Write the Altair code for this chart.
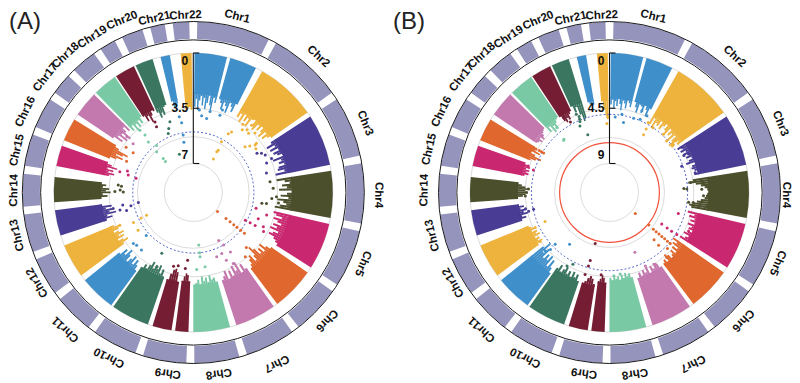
import math
import altair as alt
import pandas as pd

W, H = 784, 374
R0, RIN = 139.5, 29.0

chrom_colors = ["#3f8fca", "#edb33c", "#483c94", "#4b4f2c", "#c9276f", "#e0672d", "#c378ae", "#7ac9a5",
                "#751e33", "#3a7660", "#3f8fca", "#edb33c", "#483c94", "#4b4f2c", "#c9276f", "#e0672d",
                "#c378ae", "#7ac9a5", "#751e33", "#3a7660", "#3f8fca", "#edb33c"]
chrom_names = [f"Chr{i}" for i in range(1, 23)]

ring_edges = [0, 27.6, 55.6, 78.8, 101.8, 124, 143.3, 163, 181, 198.5, 216.5, 232.7, 248.3,
              263.9, 277.7, 291.2, 304.4, 314.4, 325.8, 334, 344, 351.7, 360]
ring_color = "#9494bd"
ring_gap = 1.35

label_angle = [14, 42.6, 68, 90.8, 112.7, 133.8, 154, 172, 188, 207, 223, 240, 256.4, 270.7, 283.5,
               295.7, 307.9, 317, 327, 337.5, 347.4, 357.5]
label_radius_a = [181, 184.5, 185, 185, 183.6, 184.6, 190, 182.5, 182, 185, 187, 180, 181, 179, 181,
                  186, 187, 187, 185, 186, 178, 177]
label_radius_b = [181, 184.5, 184, 176.5, 182, 184.6, 190, 182.5, 182, 185, 187, 180, 182, 185, 185,
                  186, 187, 187, 185, 186, 178, 177]

bar_chr = [1, 1, 2, 3, 4, 5, 6, 7, 8, 9, 9, 10, 11, 12, 13, 14, 15, 16, 17, 18, 19, 20, 21, 22]
bar_start = [0.5, 15.4, 29.6, 57, 81, 103, 125, 144.8, 164.7, 182, 189, 199, 216, 233.5, 252, 266, 281, 292,
             304, 315.7, 326.4, 335.6, 346.4, 354.8]
bar_end = [14, 26.7, 55, 78.5, 100.5, 122.5, 143, 162, 180, 187.5, 197, 215, 231, 247.7, 262.7, 276.4, 289.6,
           301.5, 314.7, 325.8, 334.8, 343, 350.3, 359.3]

profile_a = [
    [3.4, 2.9, 3.6, 3.0, 2.7, 3.3, 2.8, 3.5, 3.1, 2.6, 3.2, 3.5, 2.7, 3.0],
    [2.7, 2.9, 3.3, 2.8, 3.0, 3.4, 2.7, 2.9, 3.2, 2.6],
    [3.3, 3.0, 3.5, 2.9, 3.3, 3.0, 3.5, 2.9, 2.8, 3.2, 3.4, 2.9, 3.2, 2.8, 3.1, 3.4, 2.9, 3.3, 3.0, 2.8],
    [3.0, 3.4, 2.9, 3.3, 2.8, 3.2, 3.0, 2.7, 3.4, 2.9, 3.1, 2.8, 3.2, 3.3, 2.9, 3.5],
    [3.5, 3.0, 2.7, 3.2, 2.9, 3.4, 2.6, 2.9, 3.3, 2.8, 3.5, 3.1, 2.9, 3.3, 3.6],
    [3.6, 3.4, 3.0, 3.5, 3.2, 2.9, 3.4, 3.1, 3.5, 2.9, 3.2, 3.4, 3.0, 2.8, 2.6],
    [2.8, 3.1, 3.5, 3.0, 3.4, 3.1, 3.6, 3.9, 3.3, 3.0, 3.5, 3.3, 3.0, 2.8],
    [3.0, 3.4, 2.9, 3.7, 3.2, 3.6, 3.0, 3.4, 2.9, 3.5, 3.2, 3.0],
    [3.0, 3.3, 3.2, 3.5, 3.1, 3.4, 3.2, 3.5, 3.0, 3.3, 3.1, 3.0],
    [3.2, 3.6, 3.7, 3.5, 3.2],
    [3.1, 3.7, 3.9, 3.8, 3.5, 3.1],
    [3.2, 3.6, 3.3, 3.8, 3.5, 3.7, 3.4, 3.8, 3.5, 3.2, 3.4, 3.1],
    [2.7, 3.0, 3.3, 2.9, 3.4, 3.1, 2.8, 3.2, 3.5, 3.0, 3.3, 2.8],
    [3.4, 3.8, 3.5, 3.2, 3.7, 3.4, 3.8, 3.5, 3.2, 3.6, 3.8, 3.4],
    [3.1, 3.5, 3.2, 3.8, 3.4, 3.6, 3.2, 3.6, 3.0],
    [3.0, 3.4, 3.1, 3.6, 3.3, 3.5, 3.1, 3.3, 3.0],
    [3.4, 3.7, 3.3, 3.6, 3.2, 3.8, 3.4, 3.1],
    [3.1, 3.5, 3.9, 3.4, 3.8, 4.1, 3.4, 3.1],
    [2.7, 3.3, 2.9, 3.5, 3.0, 3.6, 3.1, 2.8, 3.2],
    [3.4, 3.1, 3.6, 3.2, 3.5, 3.1, 3.4, 3.0],
    [3.1, 3.5, 3.2, 3.7, 3.3, 3.0, 3.1],
    [3.3, 3.7, 3.4, 3.6, 3.1, 3.0],
    [2.9, 3.3, 3.5, 3.1],
    [3.6, 3.5, 3.4, 3.6],
]
profile_b = [
    [4.2, 3.8, 4.5, 3.9, 4.3, 3.7, 4.1, 4.6, 3.8, 4.0, 4.4, 3.7, 3.9, 4.2],
    [3.7, 4.1, 4.5, 3.8, 3.9, 4.4, 3.7, 4.0, 4.5, 3.8],
    [4.9, 4.3, 5.1, 4.5, 4.7, 4.2, 4.8, 4.4, 4.1, 4.6, 4.9, 4.2, 4.7, 4.4, 5.0, 4.3, 4.8, 5.2, 4.4, 4.6],
    [4.8, 4.4, 4.7, 4.3, 4.6, 4.2, 4.5, 4.1, 4.4, 4.7, 4.0, 4.3, 4.4, 4.2, 4.0, 4.3],
    [4.5, 4.9, 4.3, 3.9, 3.6, 3.4, 3.3, 3.4, 3.5, 3.6, 3.9, 4.2, 4.5, 4.8, 4.6],
    [4.8, 4.2, 4.6, 4.1, 4.4, 4.0, 4.5, 4.1, 4.3, 3.9, 4.2, 4.5, 4.0, 4.2, 4.6],
    [5.0, 4.5, 4.8, 4.2, 4.6, 4.1, 4.5, 4.2, 4.0, 4.4, 4.6, 4.0, 4.3, 4.1],
    [4.0, 4.4, 4.6, 4.2, 4.5, 4.0, 4.6, 4.2, 4.5, 4.1, 4.4, 4.0],
    [4.2, 4.6, 4.4, 4.7, 4.3, 4.6, 4.2, 4.5, 4.3, 4.6, 4.2, 4.4],
    [4.0, 4.4, 4.6, 4.3, 4.1],
    [3.8, 4.2, 4.4, 4.2, 3.9, 3.7],
    [3.7, 4.2, 3.9, 4.3, 3.8, 4.2, 3.9, 4.4, 4.1, 3.8, 4.3, 3.9],
    [3.2, 3.6, 4.2, 3.5, 4.4, 3.9, 4.3, 3.8, 4.6, 4.1, 5.0, 4.4],
    [4.2, 4.7, 4.4, 4.6, 4.3, 4.8, 4.5, 4.7, 4.3, 4.6, 4.4, 4.2],
    [3.9, 4.3, 4.0, 4.5, 4.2, 4.4, 4.0, 4.3, 3.9],
    [3.9, 4.3, 4.5, 4.7, 4.5, 4.8, 4.5, 4.2, 3.9],
    [4.3, 4.6, 4.4, 4.6, 4.3, 4.6, 4.3, 4.1],
    [4.4, 4.8, 5.2, 4.6, 4.2, 4.9, 4.4, 4.3],
    [4.0, 4.3, 4.5, 4.2, 4.5, 4.3, 4.1, 4.0, 3.9],
    [4.5, 4.1, 4.8, 4.3, 4.7, 4.2, 4.0, 3.9],
    [4.0, 4.5, 4.7, 4.4, 4.6, 4.2, 4.0],
    [3.7, 4.3, 3.9, 4.6, 5.2, 5.0],
    [3.8, 4.0, 4.2, 4.1],
    [3.9, 4.6, 5.1, 5.4],
]

# outlying SNPs: chromosome, angular position (deg), -log10(p)
a_pts_chr = [1]*6 + [2]*17 + [3]*6 + [4]*7 + [5]*8 + [6]*9 + [7]*7 + [8]*5 + [9]*4 + [10]*2 + [11]*5 + [12]*5 + [13]*6 + [14]*5 + [15]*4 + [16]*3 + [17]*3 + [18]*7 + [19]*2 + [20]*4 + [21]*4
a_pts_ang = [6.2, 10.2, 11.7, 19, 19.5, 4.2,
             30.7, 32.3, 40.5, 40.9, 48.5, 50.5, 52.5, 55, 29, 30, 31, 30.5, 43, 52, 46, 36, 38,
             58.4, 62.5, 68, 75, 60, 66.5,
             82, 98.5, 99, 93, 94.4, 87, 97,
             118, 118, 118, 116, 104, 112, 107, 119,
             128, 128.5, 128.5, 128.5, 128.5, 128.5, 128.5, 141, 136,
             152, 150, 160, 155, 148, 154, 150.6,
             174, 174, 174, 171, 177.5,
             184.8, 191.6, 195, 186,
             207.4, 206,
             227.6, 227, 229.6, 222, 223,
             244, 244, 243.4, 235.6, 246,
             259.7, 258, 260, 255, 256.5, 258.7,
             275, 270.5, 270.7, 272, 275.7,
             283.9, 285.7, 285, 288,
             295, 303.5, 304,
             309, 310, 310,
             318, 318, 318.6, 322, 318.4, 319.4, 320,
             330.8, 331.5,
             337, 341.7, 339, 340,
             350, 349.4, 350.5, 349.5]
a_pts_val = [3.95, 4.08, 3.6, 3.66, 3.3, 3.6,
             4.5, 4.3, 3.6, 3.2, 4.46, 4.2, 3.9, 4.0, 5.16, 5.86, 6.36, 5.73, 3.7, 3.76, 3.4, 3.5, 3.8,
             4.1, 3.7, 3.83, 4.04, 3.85, 3.43,
             3.93, 4.15, 4.44, 3.56, 3.85, 3.77, 3.4,
             5.1, 4.76, 4.4, 3.9, 4.74, 4.4, 3.98, 3.75,
             6.89, 6.19, 5.86, 5.56, 5.3, 5.0, 4.7, 3.6, 4.0,
             5.4, 5.0, 4.5, 4.57, 4.4, 4.06, 3.68,
             5.5, 5.0, 4.74, 4.07, 3.96,
             4.53, 4.1, 4.0, 4.0,
             4.5, 3.6,
             4.8, 3.93, 3.85, 3.93, 2.7,
             5.54, 5.16, 4.6, 4.6, 3.74,
             5.3, 4.8, 4.3, 4.46, 4.06, 3.66,
             4.27, 4.4, 3.87, 4.2, 4.06,
             5.1, 4.0, 4.57, 4.45,
             4.17, 4.27, 3.7,
             3.93, 3.34, 2.88,
             5.37, 6.2, 5.96, 5.05, 4.55, 3.64, 4.08,
             4.06, 3.75,
             4.78, 4.12, 4.5, 6.26,
             5.14, 5.6, 4.36, 3.96]

b_pts_chr = [1]*7 + [2]*9 + [3]*5 + [4]*7 + [5]*6 + [6]*13 + [7]*3 + [8]*2 + [9]*5 + [10]*2 + [11]*5 + [12]*3 + [13]*3 + [14]*3 + [15]*2 + [16]*5 + [17]*2 + [18]*4 + [19]*2 + [20]*6 + [22]*2
b_pts_ang = [11.3, 4.3, 9, 18, 26, 21.6, 22.7,
             30.5, 30, 29, 34, 42.8, 48, 53, 53.5, 52,
             58, 63.6, 70, 64, 77,
             87.5, 87, 83, 88, 92, 96.8, 97,
             107, 121, 121.6, 122, 122, 116,
             129, 129.6, 130, 130, 130, 130, 130, 130, 130, 136.7, 137, 138.6, 134,
             154, 147.5, 157,
             177, 172.6,
             195.8, 196, 196.6, 185.8, 195.7,
             210, 207,
             226.4, 226, 227.8, 222, 217.7,
             245.7, 234.7, 244.8,
             257.6, 257, 259,
             272.4, 267.7, 270,
             286.4, 288,
             301, 301, 300.8, 300.6, 300.4,
             305, 310,
             318.7, 318, 321, 319.5,
             328.5, 331,
             336, 337, 339.4, 337.4, 337.8, 338.2,
             357.8, 358.5]
b_pts_val = [5.55, 5.2, 4.9, 5.0, 4.4, 4.2, 4.9,
             5.9, 5.4, 4.85, 5.0, 4.9, 5.1, 4.85, 5.0, 4.5,
             4.4, 4.6, 5.1, 4.2, 4.2,
             5.06, 5.3, 4.7, 3.84, 3.7, 4.5, 4.87,
             5.5, 6.4, 5.85, 5.4, 4.9, 4.2,
             8.66, 7.2, 6.7, 6.4, 6.1, 5.8, 5.5, 5.2, 4.9, 6.07, 5.5, 4.3, 4.8,
             4.7, 4.44, 6.07,
             4.57, 4.66,
             5.6, 5.14, 4.4, 4.63, 7.05,
             4.44, 4.8,
             5.25, 4.68, 4.3, 3.13, 6.04,
             5.6, 4.44, 4.68,
             5.03, 4.6, 4.4,
             4.76, 4.5, 4.6,
             4.9, 4.4,
             5.1, 4.9, 4.7, 4.4, 4.17,
             4.1, 4.17,
             5.7, 3.9, 4.55, 5.65,
             4.2, 4.8,
             5.44, 4.44, 6.34, 5.1, 4.9, 4.7,
             5.74, 5.2]

panels = [
    dict(letter="(A)", letter_x=1, cx=185.3, cy=184.5, vmax=7, ticks=[0, 3.5, 7], tick_text=["0", "3.5", "7"],
         grid=[0, 3.5, 5.3, 7], blue=5.0, red=None, profile=profile_a, lr=label_radius_a,
         pc=a_pts_chr, pa=a_pts_ang, pv=a_pts_val),
    dict(letter="(B)", letter_x=385, cx=601.5, cy=184.5, vmax=9, ticks=[0, 4.5, 9], tick_text=["0", "4.5", "9"],
         grid=[0, 4.5, 6.88, 9], blue=5.0, red=7.3, profile=profile_b, lr=label_radius_b,
         pc=b_pts_chr, pa=b_pts_ang, pv=b_pts_val),
]

theta_scale = alt.Scale(domain=[0, 360], range=[0, 2 * math.pi])
radius_scale = alt.Scale(domain=[0, 1], range=[R0, RIN])
x_scale = alt.Scale(domain=[0, W], range=[0, W])
y_scale = alt.Scale(domain=[0, H], range=[0, H])
color_scale = alt.Scale(domain=chrom_names, range=chrom_colors)


def build_panel(p):
    cx, cy, vmax = p["cx"], p["cy"], p["vmax"]
    at = dict(x=alt.value(cx), y=alt.value(cy))
    layers = []

    ring = pd.DataFrame({"a": [e + ring_gap for e in ring_edges[:-1]], "a2": [e - ring_gap for e in ring_edges[1:]]})
    layers.append(alt.Chart(ring).mark_arc(color=ring_color).encode(
        theta=alt.Theta("a:Q", scale=theta_scale), theta2="a2:Q",
        radius=alt.value(170.6), radius2=alt.value(153.5), **at))
    circ = pd.DataFrame({"a": [0], "a2": [360]})
    for rr in (171.0, 152.6):
        layers.append(alt.Chart(circ).mark_arc(fillOpacity=0, stroke="#1a1a1a", strokeWidth=1).encode(
            theta=alt.Theta("a:Q", scale=theta_scale), theta2="a2:Q", radius=alt.value(rr),
            radius2=alt.value(0), **at))

    g = pd.DataFrame({"v": p["grid"], "a": 0, "a2": 360})
    layers.append(alt.Chart(g).transform_calculate(rv=f"datum.v/{vmax}").mark_arc(
        fillOpacity=0, stroke="#dcdcdc", strokeWidth=1).encode(
        theta=alt.Theta("a:Q", scale=theta_scale), theta2="a2:Q",
        radius=alt.Radius("rv:Q", scale=radius_scale), radius2=alt.value(0), **at))

    # chromosome wedges: one solid body plus the jagged inner edge
    body, teeth = [], []
    for i, prof in enumerate(p["profile"]):
        s, e = bar_start[i], bar_end[i]
        name = chrom_names[bar_chr[i] - 1]
        base = min(prof)
        body.append({"chr": name, "a": s, "a2": e, "v": base, "top": 0})
        step = (e - s) / len(prof)
        for j, v in enumerate(prof):
            teeth.append({"chr": name, "a": s + j * step, "a2": s + (j + 1) * step, "v": v, "top": base - 0.1})
    layers.append(alt.Chart(pd.DataFrame(body)).transform_calculate(rv=f"datum.v/{vmax}").mark_arc().encode(
        theta=alt.Theta("a:Q", scale=theta_scale), theta2="a2:Q",
        radius=alt.Radius("top:Q", scale=radius_scale), radius2="rv:Q",
        color=alt.Color("chr:N", scale=color_scale, legend=None), **at))
    layers.append(alt.Chart(pd.DataFrame(teeth)).transform_calculate(
        rv=f"datum.v/{vmax}", rt=f"datum.top/{vmax}").mark_arc().encode(
        theta=alt.Theta("a:Q", scale=theta_scale), theta2="a2:Q",
        radius=alt.Radius("rt:Q", scale=radius_scale), radius2="rv:Q",
        color=alt.Color("chr:N", scale=color_scale, legend=None), **at))

    b = pd.DataFrame({"v": [p["blue"]], "a": [0], "a2": [360]})
    layers.append(alt.Chart(b).transform_calculate(rv=f"datum.v/{vmax}").mark_arc(
        fillOpacity=0, stroke="#3b52c4", strokeWidth=1, strokeDash=[1.8, 2.2]).encode(
        theta=alt.Theta("a:Q", scale=theta_scale), theta2="a2:Q",
        radius=alt.Radius("rv:Q", scale=radius_scale), radius2=alt.value(0), **at))
    if p["red"] is not None:
        r = pd.DataFrame({"v": [p["red"]], "a": [0], "a2": [360]})
        layers.append(alt.Chart(r).transform_calculate(rv=f"datum.v/{vmax}").mark_arc(
            fillOpacity=0, stroke="#f0533c", strokeWidth=1.2).encode(
            theta=alt.Theta("a:Q", scale=theta_scale), theta2="a2:Q",
            radius=alt.Radius("rv:Q", scale=radius_scale), radius2=alt.value(0), **at))

    pts = pd.DataFrame({"chr": [chrom_names[c - 1] for c in p["pc"]], "a": p["pa"], "v": p["pv"]})
    layers.append(alt.Chart(pts).transform_calculate(
        rr=f"{R0}-{R0 - RIN}*datum.v/{vmax}",
        px=f"{cx}+datum.rr*sin(datum.a*PI/180)",
        py=f"{cy}-datum.rr*cos(datum.a*PI/180)",
    ).mark_circle(size=9, opacity=1).encode(
        x=alt.X("px:Q", scale=x_scale, axis=None),
        y=alt.Y("py:Q", scale=y_scale, axis=None),
        color=alt.Color("chr:N", scale=color_scale, legend=None)))

    lab = pd.DataFrame({"t": chrom_names, "a": label_angle, "r": p["lr"]})
    layers.append(alt.Chart(lab).transform_calculate(
        px=f"{cx}+datum.r*sin(datum.a*PI/180)",
        py=f"{cy}-datum.r*cos(datum.a*PI/180)",
    ).mark_text(font="Liberation Sans", fontWeight="bold", fontSize=11.5, color="#111111",
                align="center", baseline="middle").encode(
        x=alt.X("px:Q", scale=x_scale, axis=None),
        y=alt.Y("py:Q", scale=y_scale, axis=None),
        angle=alt.Angle("a:Q", scale=None), text="t:N"))

    ax = pd.DataFrame({"v": [p["ticks"][0]], "v2": [p["ticks"][-1]]})
    layers.append(alt.Chart(ax).transform_calculate(
        p1=f"{cy}-({R0}-{R0 - RIN}*datum.v/{vmax})",
        p2=f"{cy}-({R0}-{R0 - RIN}*datum.v2/{vmax})",
    ).mark_rule(color="#111111", strokeWidth=1.1).encode(
        x=alt.value(cx), y=alt.Y("p1:Q", scale=y_scale, axis=None), y2="p2:Q"))
    tk = pd.DataFrame({"v": p["ticks"], "t": p["tick_text"]})
    layers.append(alt.Chart(tk).transform_calculate(
        py=f"{cy}-({R0}-{R0 - RIN}*datum.v/{vmax})"
    ).mark_rule(color="#111111", strokeWidth=1.1).encode(
        x=alt.value(cx), x2=alt.value(cx + 6), y=alt.Y("py:Q", scale=y_scale, axis=None)))
    for idx, base in enumerate(["top", "middle", "bottom"]):
        one = tk.iloc[[idx]]
        layers.append(alt.Chart(one).transform_calculate(
            py=f"{cy}-({R0}-{R0 - RIN}*datum.v/{vmax})"
        ).mark_text(font="Liberation Sans", fontWeight="bold", fontSize=12, color="#111111",
                    align="right", baseline=base, dy=(3 if idx == 0 else (-2 if idx == 2 else 0))).encode(
            x=alt.value(cx - 5), y=alt.Y("py:Q", scale=y_scale, axis=None), text="t:N"))

    layers.append(alt.Chart(pd.DataFrame({"t": [p["letter"]]})).mark_text(
        font="Liberation Sans", fontSize=24, color="#222222", align="left", baseline="alphabetic").encode(
        x=alt.value(p["letter_x"]), y=alt.value(21), text="t:N"))
    return layers


all_layers = build_panel(panels[0]) + build_panel(panels[1])
chart = alt.layer(*all_layers).properties(
    width=W, height=H, padding=0,
    autosize=alt.AutoSizeParams(type="none"),
).configure_view(stroke=None)

chart.save("out.html", embed_options={"renderer": "svg", "actions": False})
